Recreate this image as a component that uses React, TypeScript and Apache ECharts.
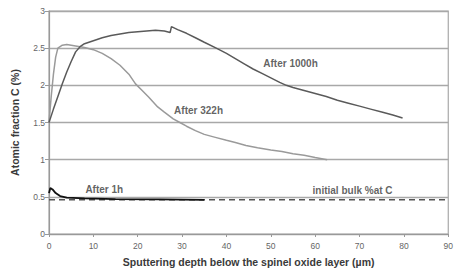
import React, { useEffect, useRef } from "react";
import * as echarts from "echarts";

const xTicks = [0, 10, 20, 30, 40, 50, 60, 70, 80, 90];
const yTicks = [0, 0.5, 1, 1.5, 2, 2.5, 3];

const after1000h: [number, number][] = [
  [0, 1.5], [1, 1.68], [2, 1.85], [3, 2.02], [4, 2.18], [5, 2.32], [6, 2.45], [7, 2.52],
  [8, 2.56], [10, 2.6], [12, 2.64], [14, 2.67], [16, 2.69], [18, 2.71], [20, 2.72],
  [22, 2.73], [24, 2.74], [26, 2.73], [27.3, 2.71], [27.6, 2.79], [29, 2.75], [31, 2.7],
  [33, 2.64], [35, 2.58], [37.7, 2.5], [40, 2.43], [42, 2.36], [44, 2.29], [46, 2.22],
  [48, 2.16], [50, 2.1], [52, 2.04], [53.5, 2.0], [55, 1.97], [57.5, 1.93], [60, 1.89],
  [62.5, 1.85], [65, 1.8], [67.5, 1.76], [70, 1.72], [72.5, 1.68], [75, 1.64],
  [77.5, 1.6], [79.7, 1.56],
];

const after322h: [number, number][] = [
  [0, 1.5], [0.5, 1.85], [1, 2.15], [1.5, 2.38], [2, 2.5], [3, 2.54], [4, 2.55],
  [5, 2.54], [6, 2.53], [8, 2.51], [10, 2.48], [12, 2.43], [14, 2.36], [16, 2.27],
  [18, 2.15], [19.5, 2.02], [21, 1.93], [22.5, 1.84], [24.5, 1.71], [26, 1.64],
  [28, 1.55], [29.5, 1.5], [31, 1.45], [33, 1.39], [35, 1.34], [37.5, 1.3], [40, 1.26],
  [42, 1.23], [44.4, 1.19], [47, 1.16], [50, 1.13], [52.5, 1.11], [55, 1.08],
  [57.5, 1.06], [60, 1.03], [62.7, 1.0],
];

const after1h: [number, number][] = [
  [0, 0.55], [0.3, 0.62], [0.8, 0.6], [1.5, 0.55], [2.5, 0.51], [4, 0.49], [8, 0.48],
  [15, 0.47], [25, 0.465], [35, 0.46],
];

const bulk: [number, number][] = [[0, 0.46], [90, 0.46]];

const labels: [number, number, string][] = [
  [48.3, 2.29, "After 1000h"],
  [28.2, 1.66, "After 322h"],
  [8.2, 0.6, "After 1h"],
  [59.4, 0.585, "initial bulk %at C"],
];

const FONT = "'Liberation Sans', Arial, sans-serif";

export default function App() {
  const ref = useRef<HTMLDivElement>(null);
  useEffect(() => {
    if (!ref.current) return;
    const chart = echarts.init(ref.current, undefined, { renderer: "svg" });
    chart.setOption({
      animation: false,
      backgroundColor: "#ffffff",
      grid: {
        left: 49,
        right: 1,
        top: 11,
        bottom: 34,
        show: true,
        borderColor: "#a8a8a8",
        borderWidth: 1.2,
      },
      xAxis: {
        type: "value",
        min: xTicks[0],
        max: xTicks[xTicks.length - 1],
        interval: 10,
        name: "Sputtering depth below the spinel oxide layer (µm)",
        nameLocation: "middle",
        nameGap: 22,
        nameTextStyle: { fontFamily: FONT, fontWeight: "bold", fontSize: 10.5, color: "#3a3a3a" },
        axisLine: { show: true, lineStyle: { color: "#999", width: 1.2 } },
        axisTick: { show: true, length: 3, inside: false, lineStyle: { color: "#999" } },
        axisLabel: { fontFamily: FONT, fontSize: 8.5, color: "#666", margin: 7 },
        splitLine: { show: false },
      },
      yAxis: {
        type: "value",
        min: yTicks[0],
        max: yTicks[yTicks.length - 1],
        interval: 0.5,
        name: "Atomic fraction C (%)",
        nameLocation: "middle",
        nameGap: 29,
        nameTextStyle: { fontFamily: FONT, fontWeight: "bold", fontSize: 10.5, color: "#3a3a3a" },
        axisLine: { show: true, lineStyle: { color: "#999", width: 1.2 } },
        axisTick: { show: true, length: 4, lineStyle: { color: "#999" } },
        axisLabel: { fontFamily: FONT, fontSize: 8.5, color: "#666", margin: 4 },
        splitLine: { show: true, lineStyle: { color: "#a8a8a8", width: 1.3 } },
      },
      series: [
        {
          type: "line",
          data: bulk,
          symbol: "none",
          lineStyle: { color: "#555", width: 1.6, type: [6, 4] },
          z: 2,
        },
        {
          type: "line",
          data: after322h,
          symbol: "none",
          lineStyle: { color: "#9a9a9a", width: 1.5 },
        },
        {
          type: "line",
          data: after1000h,
          symbol: "none",
          lineStyle: { color: "#5a5a5a", width: 1.5 },
        },
        {
          type: "line",
          data: after1h,
          symbol: "none",
          lineStyle: { color: "#111", width: 1.8 },
        },
        {
          type: "scatter",
          data: labels.map((l) => ({ value: [l[0], l[1]], name: l[2] })),
          symbolSize: 0,
          label: {
            show: true,
            position: "right",
            distance: 0,
            formatter: (p: any) => p.name,
            fontFamily: FONT,
            fontWeight: "bold",
            fontSize: 10,
            color: "#3a3a3a",
          },
          z: 5,
        },
      ],
    });
    return () => chart.dispose();
  }, []);
  return (
    <div
      ref={ref}
      style={{ position: "fixed", left: 0, top: 0, width: 456, height: 272 }}
    />
  );
}
